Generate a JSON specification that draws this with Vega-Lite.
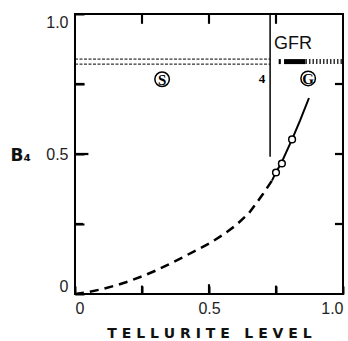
{
  "$schema": "https://vega.github.io/schema/vega-lite/v6.json",
  "autosize": "none",
  "width": 268,
  "height": 280,
  "padding": {"left": 75, "top": 14, "right": 5, "bottom": 47},
  "background": "white",
  "config": {"view": {"stroke": "black", "strokeWidth": 2}},
  "resolve": {"axis": {"x": "independent", "y": "independent"}},
  "datasets": {
    "dashcurve": [
      {"x": 0, "y": 0}, {"x": 0.05, "y": 0.007}, {"x": 0.1, "y": 0.017}, {"x": 0.15, "y": 0.03},
      {"x": 0.2, "y": 0.045}, {"x": 0.25, "y": 0.063}, {"x": 0.3, "y": 0.083}, {"x": 0.35, "y": 0.106},
      {"x": 0.4, "y": 0.13}, {"x": 0.45, "y": 0.155}, {"x": 0.5, "y": 0.18}, {"x": 0.55, "y": 0.21},
      {"x": 0.6, "y": 0.245}, {"x": 0.65, "y": 0.29}, {"x": 0.7, "y": 0.355}, {"x": 0.735, "y": 0.405}
    ],
    "solidcurve": [
      {"x": 0.735, "y": 0.405}, {"x": 0.75, "y": 0.435}, {"x": 0.77, "y": 0.468}, {"x": 0.79, "y": 0.51},
      {"x": 0.81, "y": 0.552}, {"x": 0.84, "y": 0.62}, {"x": 0.873, "y": 0.7}
    ],
    "obs": [{"x": 0.75, "y": 0.434}, {"x": 0.772, "y": 0.466}, {"x": 0.81, "y": 0.552}],
    "hlines": [{"x": 0, "x2": 0.728, "y": 0.839}, {"x": 0, "x2": 0.728, "y": 0.821}],
    "gfrsolid": [{"x": 0.76, "x2": 0.768, "y": 0.83}, {"x": 0.78, "x2": 0.86, "y": 0.83}],
    "gfrdotted": [{"x": 0.86, "x2": 1.0, "y": 0.83}],
    "vline": [{"x": 0.728, "y": 1.0, "y2": 0.49}],
    "tickrects": [
      {"x": 0.246, "x2": 0.254, "y": 1.0, "y2": 0.965},
      {"x": 0.496, "x2": 0.504, "y": 1.0, "y2": 0.965},
      {"x": 0.746, "x2": 0.754, "y": 1.0, "y2": 0.965},
      {"x": 0.246, "x2": 0.254, "y": 0.0, "y2": 0.03},
      {"x": 0.496, "x2": 0.504, "y": 0.0, "y2": 0.035},
      {"x": 0.746, "x2": 0.754, "y": 0.0, "y2": 0.03},
      {"x": 0.97, "x2": 1.0, "y": 0.246, "y2": 0.254},
      {"x": 0.97, "x2": 1.0, "y": 0.496, "y2": 0.504},
      {"x": 0.97, "x2": 1.0, "y": 0.746, "y2": 0.754},
      {"x": 0.0, "x2": 0.03, "y": 0.246, "y2": 0.254},
      {"x": 0.0, "x2": 0.05, "y": 0.496, "y2": 0.504},
      {"x": 0.0, "x2": 0.035, "y": 0.746, "y2": 0.754}
    ],
    "circled": [{"x": 0.325, "y": 0.767, "label": "S"}, {"x": 0.87, "y": 0.77, "label": "G"}],
    "gfr": [{"x": 0.813, "y": 0.893, "label": "GFR"}],
    "four": [{"x": 0.698, "y": 0.767, "label": "4"}]
  },
  "layer": [
    {
      "data": {"name": "dashcurve"},
      "mark": {"type": "line", "color": "black", "strokeWidth": 2.5, "strokeDash": [9, 6]},
      "encoding": {
        "x": {
          "field": "x", "type": "quantitative",
          "scale": {"domain": [0, 1], "nice": false, "zero": false},
          "axis": {
            "values": [0, 0.25, 0.5, 0.75, 1],
            "labelExpr": "datum.value == 0 ? '0' : datum.value == 0.5 ? '0.5' : datum.value == 1 ? '1.0' : ''",
            "domain": false, "grid": false,
            "offset": -8, "tickSize": 8, "tickWidth": 2, "tickColor": "black",
            "labelPadding": 6, "labelFont": "Liberation Sans", "labelFontSize": 16, "labelColor": "#222",
            "labelFlush": true, "labelOverlap": false,
            "title": "T E L L U R I T E \u00a0\u00a0L E V E L",
            "titleFont": "DejaVu Sans", "titleFontSize": 14, "titleFontWeight": "bold", "titleColor": "#111",
            "titleY": 51, "titleBaseline": "alphabetic"
          }
        },
        "y": {
          "field": "y", "type": "quantitative",
          "scale": {"domain": [0, 1], "nice": false, "zero": false},
          "axis": {
            "values": [0, 0.25, 0.5, 0.75, 1],
            "labelExpr": "datum.value == 0 ? '0' : datum.value == 0.5 ? '0.5' : datum.value == 1 ? '1.0' : ''",
            "domain": false, "grid": false,
            "offset": -9, "tickSize": 9, "tickWidth": 2, "tickColor": "black",
            "labelPadding": 7, "labelFont": "Liberation Sans", "labelFontSize": 16, "labelColor": "#222",
            "labelFlush": true, "labelOverlap": false,
            "title": "B₄",
            "titleAngle": 0, "titleAlign": "left", "titleBaseline": "middle",
            "titleX": -74, "titleY": 141,
            "titleFont": "DejaVu Sans", "titleFontSize": 17, "titleFontWeight": "bold", "titleColor": "#111"
          }
        }
      }
    },
    {
      "data": {"name": "tickrects"},
      "mark": {"type": "rect", "color": "black"},
      "encoding": {"x": {"field": "x", "type": "quantitative", "axis": null}, "x2": {"field": "x2"}, "y": {"field": "y", "type": "quantitative", "axis": null}, "y2": {"field": "y2"}}
    },
    {
      "data": {"name": "solidcurve"},
      "mark": {"type": "line", "color": "black", "strokeWidth": 2},
      "encoding": {"x": {"field": "x", "type": "quantitative", "axis": null}, "y": {"field": "y", "type": "quantitative", "axis": null}}
    },
    {
      "data": {"name": "hlines"},
      "mark": {"type": "rule", "color": "black", "strokeWidth": 1, "strokeDash": [3, 1.5]},
      "encoding": {"x": {"field": "x", "type": "quantitative", "axis": null}, "x2": {"field": "x2"}, "y": {"field": "y", "type": "quantitative", "axis": null}}
    },
    {
      "data": {"name": "gfrsolid"},
      "mark": {"type": "rule", "color": "black", "strokeWidth": 5},
      "encoding": {"x": {"field": "x", "type": "quantitative", "axis": null}, "x2": {"field": "x2"}, "y": {"field": "y", "type": "quantitative", "axis": null}}
    },
    {
      "data": {"name": "gfrdotted"},
      "mark": {"type": "rule", "color": "#333", "strokeWidth": 5, "strokeDash": [1.5, 2]},
      "encoding": {"x": {"field": "x", "type": "quantitative", "axis": null}, "x2": {"field": "x2"}, "y": {"field": "y", "type": "quantitative", "axis": null}}
    },
    {
      "data": {"name": "vline"},
      "mark": {"type": "rule", "color": "black", "strokeWidth": 1.5},
      "encoding": {"x": {"field": "x", "type": "quantitative", "axis": null}, "y": {"field": "y", "type": "quantitative", "axis": null}, "y2": {"field": "y2"}}
    },
    {
      "data": {"name": "obs"},
      "mark": {"type": "point", "shape": "circle", "size": 45, "filled": true, "fill": "white", "stroke": "black", "strokeWidth": 1.5, "opacity": 1},
      "encoding": {"x": {"field": "x", "type": "quantitative", "axis": null}, "y": {"field": "y", "type": "quantitative", "axis": null}}
    },
    {
      "data": {"name": "circled"},
      "mark": {"type": "point", "shape": "circle", "size": 210, "filled": false, "stroke": "black", "strokeWidth": 1.5, "opacity": 1},
      "encoding": {"x": {"field": "x", "type": "quantitative", "axis": null}, "y": {"field": "y", "type": "quantitative", "axis": null}}
    },
    {
      "data": {"name": "circled"},
      "mark": {"type": "text", "font": "Liberation Serif", "fontSize": 15, "fontWeight": "bold", "color": "black", "align": "center", "baseline": "middle", "dy": 1},
      "encoding": {"x": {"field": "x", "type": "quantitative", "axis": null}, "y": {"field": "y", "type": "quantitative", "axis": null}, "text": {"field": "label"}}
    },
    {
      "data": {"name": "gfr"},
      "mark": {"type": "text", "font": "Liberation Sans", "fontSize": 18, "color": "#111", "align": "center", "baseline": "middle"},
      "encoding": {"x": {"field": "x", "type": "quantitative", "axis": null}, "y": {"field": "y", "type": "quantitative", "axis": null}, "text": {"field": "label"}}
    },
    {
      "data": {"name": "four"},
      "mark": {"type": "text", "font": "Liberation Serif", "fontSize": 13, "fontWeight": "bold", "color": "black", "align": "center", "baseline": "middle"},
      "encoding": {"x": {"field": "x", "type": "quantitative", "axis": null}, "y": {"field": "y", "type": "quantitative", "axis": null}, "text": {"field": "label"}}
    }
  ]
}
